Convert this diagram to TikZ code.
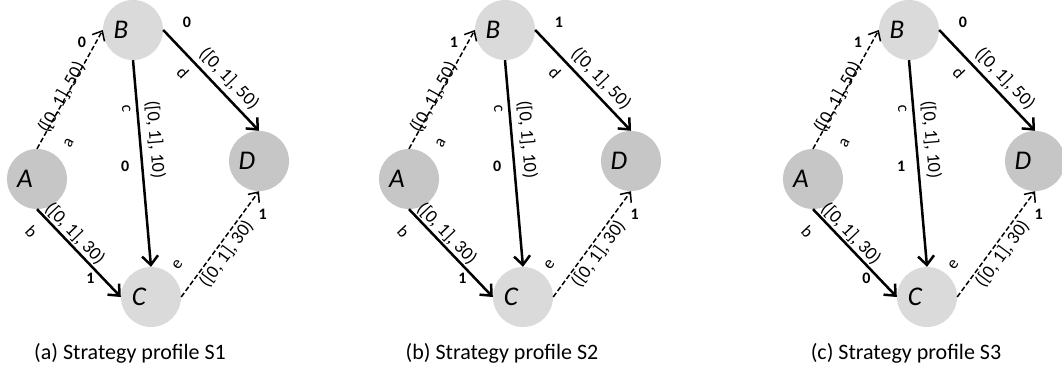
\documentclass[tikz,border=0pt]{standalone}
\usepackage{fontspec}
\setmainfont{Carlito}
\usetikzlibrary{arrows.meta}

\definecolor{nodedark}{RGB}{198,198,198}
\definecolor{nodelight}{RGB}{218,218,218}

\tikzset{
  darknode/.style={circle, fill=nodedark, minimum size=60pt, inner sep=0pt},
  lightnode/.style={circle, fill=nodelight, minimum size=60pt, inner sep=0pt},
  letter/.style={xshift=-12pt, inner sep=0pt, font=\fontsize{27}{27}\selectfont\itshape},
  solidarc/.style={line width=2.5pt, -{Straight Barb[length=9pt,width=16pt]}},
  dashedarc/.style={line width=1.5pt, dash pattern=on 5pt off 2.5pt, -{Straight Barb[length=8pt,width=14pt]}},
  cost/.style={sloped, inner sep=0pt, font=\fontsize{18.5}{18.5}\selectfont},
  tag/.style={sloped, inner sep=0pt, font=\fontsize{17}{17}\selectfont},
  num/.style={inner sep=0pt, font=\fontsize{16}{16}\selectfont\bfseries},
  caption/.style={inner sep=0pt, font=\fontsize{22}{22}\selectfont},
}

\begin{document}
\begin{tikzpicture}[x=1pt, y=1pt]
\useasboundingbox (0,0) rectangle (1062,370);

% one panel per strategy profile: shift / tag / a / b / c / d / e / profile
\foreach \dx/\p/\na/\nb/\nc/\nd/\ne/\s in {0/a/0/1/0/0/1/1, 372/b/1/1/0/1/1/2, 776/c/1/0/1/0/1/3}{
\begin{scope}[xshift=\dx pt]
% Vertices
\node[darknode, label={[letter]center:A}] (A-\p) at (37,191) {};
\node[lightnode, label={[letter]center:B}] (B-\p) at (133,340) {};
\node[lightnode, label={[letter]center:C}] (C-\p) at (151,73) {};
\node[darknode, label={[letter]center:D}] (D-\p) at (259,209) {};

% Edge a
\draw[dashedarc] (A-\p.north) -- (B-\p.west)
  node[cost, pos=0.42, above=-5.5pt] {([0, 1], 50)}
  node[tag, pos=0.15, below=20pt] {a}
  node[num, pos=0.85, xshift=-11pt, yshift=6pt] {\na};

% Edge b
\draw[solidarc] (A-\p.south) -- (C-\p.west)
  node[cost, pos=0.36, above=1.5pt] {([0, 1], 30)}
  node[tag, pos=0.1, below=12pt] {b}
  node[num, pos=0.72, xshift=-7pt, yshift=-6pt] {\nb};

% Edge c
\draw[solidarc] (B-\p.south) -- (C-\p.north)
  node[cost, pos=0.39, above=6pt] {([0, 1], 10)}
  node[tag, pos=0.23, below=5.5pt] {c}
  node[num, pos=0.51, xshift=-17pt, yshift=-1pt] {\nc};

% Edge d
\draw[solidarc] (B-\p.east) -- (D-\p.north)
  node[cost, pos=0.58, above=5pt] {([0, 1], 50)}
  node[tag, pos=0.32, below=8pt] {d}
  node[num, pos=0.07, xshift=17pt, yshift=15pt] {\nd};

% Edge e
\draw[dashedarc] (C-\p.east) -- (D-\p.south)
  node[cost, pos=0.47, below=2pt] {([0, 1], 30)}
  node[tag, pos=0.18, above=17pt] {e}
  node[num, pos=0.88, xshift=13pt, yshift=-10pt] {\ne};

% Caption
\node[caption] (cap-\p) at (130,17) {(\p) Strategy profile S\s};
\end{scope}
}
\end{tikzpicture}
\end{document}
